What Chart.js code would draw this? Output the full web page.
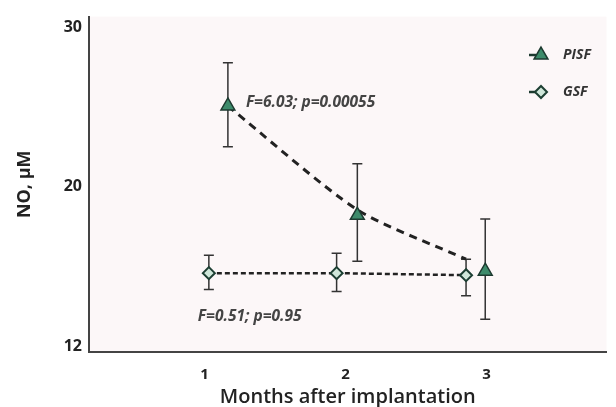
<!DOCTYPE html>
<html>
<head>
<meta charset="utf-8">
<script src="https://cdn.jsdelivr.net/npm/chart.js@4.4.1/dist/chart.umd.min.js"></script>
<style>
  body { margin: 0; background: #ffffff; }
  #wrap { width: 616px; height: 407px; }
</style>
</head>
<body>
<div id="wrap"><canvas id="myChart" width="616" height="407"></canvas></div>
<script>
// tick labels
const xTicks = [1, 2, 3];
const yTicks = [12, 20, 30];

// PISF: markers are dodged a little to the right of each month
const pisfX = [1.165, 2.083, 2.99];
const pisfMean = [24.8, 18.4, 15.5];
const pisfUpper = [27.6, 21.3, 18.2];
const pisfLower = [22.3, 16.0, 13.2];
// dashed trend drawn for PISF (it ends left of the last marker in the figure)
const pisfTrendX = [1.165, 2.083, 2.854];
const pisfTrendY = [24.8, 18.7, 16.1];

// GSF
const gsfX = [1.03, 1.936, 2.854];
const gsfMean = [15.4, 15.4, 15.3];
const gsfUpper = [16.3, 16.4, 16.1];
const gsfLower = [14.6, 14.5, 14.3];

const stats = ['F=6.03; p=0.00055', 'F=0.51; p=0.95'];

const FONT = "'Open Sans', 'DejaVu Sans', sans-serif";

// y axis of the figure is square-root spaced (12, 20, 30 evenly apart)
class SqrtScale extends Chart.LinearScale {
  getPixelForValue(value) {
    const a = Math.sqrt(this.min), b = Math.sqrt(this.max);
    return this.getPixelForDecimal((Math.sqrt(value) - a) / (b - a));
  }
  getValueForPixel(pixel) {
    const a = Math.sqrt(this.min), b = Math.sqrt(this.max);
    const s = a + this.getDecimalForPixel(pixel) * (b - a);
    return s * s;
  }
}
SqrtScale.id = 'sqrt';
SqrtScale.defaults = Chart.LinearScale.defaults;
Chart.register(SqrtScale);

const toPoints = (xs, ys) => xs.map((x, i) => ({ x: x, y: ys[i] }));

const series = [
  { label: 'PISF', xs: pisfX, up: pisfUpper, lo: pisfLower },
  { label: 'GSF', xs: gsfX, up: gsfUpper, lo: gsfLower }
];

const triStyle = { pointStyle: 'triangle', radius: 8, fill: '#3d8b6b', stroke: '#1d3a30', width: 1.5 };
const diaStyle = { pointStyle: 'rectRot', radius: 6, fill: '#cfe7da', stroke: '#1d3f33', width: 2 };

const decorations = {
  id: 'decorations',
  beforeDraw(chart) {
    const { ctx, chartArea: a } = chart;
    ctx.save();
    ctx.fillStyle = '#fcf7f8';
    ctx.fillRect(a.left, a.top, a.right - a.left, a.bottom - a.top);
    ctx.restore();
  },
  beforeDatasetsDraw(chart) {
    const { ctx, scales: { x, y } } = chart;
    ctx.save();
    ctx.strokeStyle = '#333333';
    ctx.lineWidth = 1.5;
    series.forEach(s => {
      s.xs.forEach((xv, i) => {
        const px = x.getPixelForValue(xv);
        const t = y.getPixelForValue(s.up[i]);
        const b = y.getPixelForValue(s.lo[i]);
        ctx.beginPath();
        ctx.moveTo(px, t); ctx.lineTo(px, b);
        ctx.moveTo(px - 5, t); ctx.lineTo(px + 5, t);
        ctx.moveTo(px - 5, b); ctx.lineTo(px + 5, b);
        ctx.stroke();
      });
    });
    ctx.restore();
  },
  afterDraw(chart) {
    const { ctx, scales: { x, y } } = chart;
    ctx.save();
    // F / p annotations
    ctx.font = 'italic bold 15.5px ' + FONT;
    ctx.fillStyle = '#444444';
    ctx.textBaseline = 'middle';
    ctx.textAlign = 'left';
    ctx.fillText(stats[0], x.getPixelForValue(pisfX[0]) + 18, y.getPixelForValue(pisfMean[0]) - 3);
    ctx.fillText(stats[1], x.getPixelForValue(gsfX[0]) - 11, y.getPixelForValue(gsfMean[0]) + 43);

    // legend
    const items = [['PISF', triStyle, 55], ['GSF', diaStyle, 92]];
    items.forEach(([label, st, ly]) => {
      ctx.strokeStyle = '#1d3a30';
      ctx.lineWidth = 2.5;
      ctx.beginPath();
      ctx.moveTo(529, ly); ctx.lineTo(536, ly);
      ctx.stroke();
      ctx.fillStyle = st.fill;
      ctx.strokeStyle = st.stroke;
      ctx.lineWidth = st.width;
      Chart.helpers.drawPoint(ctx, { pointStyle: st.pointStyle, radius: st.radius, borderWidth: st.width, rotation: 0 }, 541, ly);
      ctx.fillStyle = '#333333';
      ctx.font = 'italic bold 14px ' + FONT;
      ctx.fillText(label, 563, ly);
    });
    ctx.restore();
  }
};

const ctx = document.getElementById('myChart').getContext('2d');
const myChart = new Chart(ctx, {
  type: 'line',
  data: {
    datasets: [
      {
        label: 'PISF trend',
        data: toPoints(pisfTrendX, pisfTrendY),
        borderColor: '#222222',
        borderWidth: 3,
        borderDash: [8, 6],
        pointRadius: 0,
        tension: 0.25,
        order: 4
      },
      {
        label: 'GSF',
        data: toPoints(gsfX, gsfMean),
        borderColor: '#222222',
        borderWidth: 2.5,
        borderDash: [5, 3],
        pointStyle: diaStyle.pointStyle,
        pointRadius: diaStyle.radius,
        pointBackgroundColor: diaStyle.fill,
        pointBorderColor: diaStyle.stroke,
        pointBorderWidth: diaStyle.width,
        tension: 0,
        order: 3
      },
      {
        label: 'PISF',
        data: toPoints(pisfX, pisfMean),
        showLine: false,
        pointStyle: triStyle.pointStyle,
        pointRadius: triStyle.radius,
        pointBackgroundColor: triStyle.fill,
        pointBorderColor: triStyle.stroke,
        pointBorderWidth: triStyle.width,
        order: 1
      }
    ]
  },
  options: {
    responsive: false,
    animation: false,
    layout: { padding: { top: 16, right: 8, left: 0, bottom: 0 } },
    plugins: {
      legend: { display: false },
      tooltip: { enabled: false },
      title: { display: false }
    },
    scales: {
      x: {
        type: 'linear',
        min: 0.18,
        max: 3.85,
        afterBuildTicks: s => { s.ticks = xTicks.map(v => ({ value: v })); },
        afterFit: s => { s.height = 55; },
        grid: { display: false, drawTicks: false },
        border: { display: true, color: '#444444', width: 2 },
        ticks: {
          padding: 14,
          color: '#222222',
          font: { family: FONT, size: 15, weight: 'bold' }
        },
        title: {
          display: true,
          text: 'Months after implantation',
          color: '#222222',
          padding: { top: 0, bottom: -2 },
          font: { family: FONT, size: 20, weight: '600' }
        }
      },
      y: {
        type: 'sqrt',
        min: 11.74,
        max: 30.74,
        afterBuildTicks: s => { s.ticks = yTicks.map(v => ({ value: v })); },
        afterFit: s => { s.width = 89; },
        grid: { display: false, drawTicks: false },
        border: { display: true, color: '#444444', width: 2 },
        ticks: {
          padding: 7,
          color: '#222222',
          font: { family: FONT, size: 16, weight: 'bold' }
        },
        title: {
          display: true,
          text: 'NO, µM',
          color: '#222222',
          padding: { top: 14, bottom: 0 },
          font: { family: FONT, size: 18, weight: 'bold' }
        }
      }
    }
  },
  plugins: [decorations]
});
</script>
</body>
</html>
